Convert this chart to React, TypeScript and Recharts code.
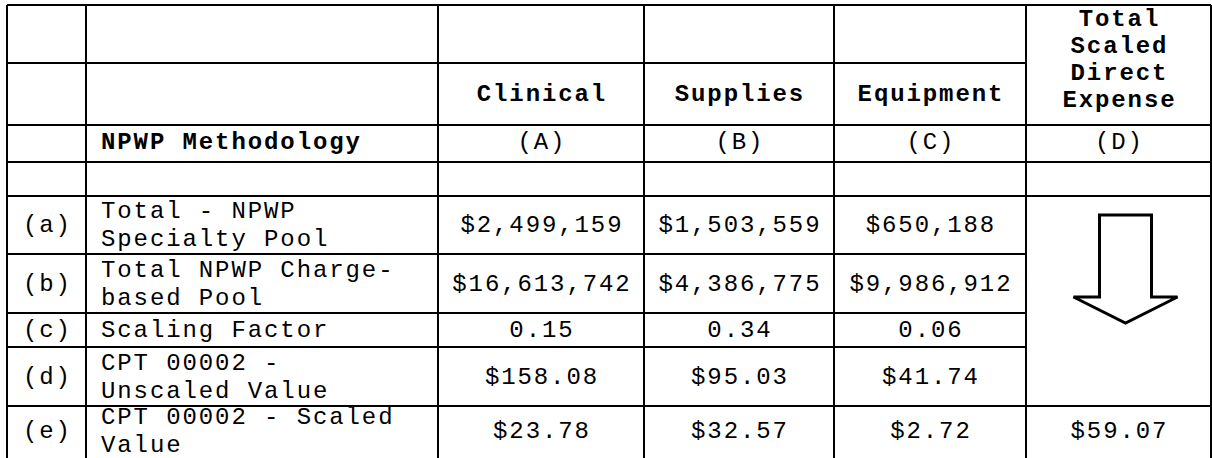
import React from "react";
import { Surface, Layer, Text, Polygon } from "recharts";

// table content
const columnHeads = ["Clinical", "Supplies", "Equipment"];
const totalHead = ["Total", "Scaled", "Direct", "Expense"];
const methodTitle = "NPWP Methodology";
const columnKeys = ["(A)", "(B)", "(C)", "(D)"];
const rowKeys = ["(a)", "(b)", "(c)", "(d)", "(e)"];
const rowLabels = [
  ["Total - NPWP", "Specialty Pool"],
  ["Total NPWP Charge-", "based Pool"],
  ["Scaling Factor"],
  ["CPT 00002 -", "Unscaled Value"],
  ["CPT 00002 - Scaled", "Value"],
];
const clinical = ["$2,499,159", "$16,613,742", "0.15", "$158.08", "$23.78"];
const supplies = ["$1,503,559", "$4,386,775", "0.34", "$95.03", "$32.57"];
const equipment = ["$650,188", "$9,986,912", "0.06", "$41.74", "$2.72"];
const totalScaled = "$59.07";

// layout
const W = 1212;
const H = 458;
const colX = [7, 86, 438, 644, 834, 1026, 1211];
const rowY = [5, 63, 125, 162, 196, 254, 313, 347, 406, 459];
const FONT = "'Liberation Mono', 'Courier New', monospace";
const FS = 24;
const SPACING = 1.9; // keeps the Courier advance of ~16px per char
const LINE = 28;
const BASE = 7;

const mid = (a: number, b: number) => (a + b) / 2;

const Cell = ({ x, y, text, bold, anchor = "middle" }: any) => (
  <Text
    x={anchor === "middle" ? x + SPACING / 2 : x}
    y={y}
    textAnchor={anchor}
    verticalAnchor="end"
    fontFamily={FONT}
    fontSize={FS}
    fontWeight={bold ? 700 : 400}
    letterSpacing={SPACING}
    fill="#000"
  >
    {text}
  </Text>
);

const App = () => {
  const dataCols = [clinical, supplies, equipment];
  const lastCol = colX[5];

  // horizontal rules: [y, xEnd]
  const hLines: [number, number][] = rowY.map((y, i) => {
    const partial = i === 1 || i === 5 || i === 6 || i === 7;
    return [y, partial ? lastCol : colX[colX.length - 1]];
  });

  // arrow in merged D cell, rows (a)-(d)
  const ax = mid(colX[5], colX[6]) + 7;
  const aTop = rowY[4] + 19;
  const shoulder = aTop + 82;
  const tip = shoulder + 26;
  const arrow = [
    { x: ax - 26, y: aTop },
    { x: ax + 26, y: aTop },
    { x: ax + 26, y: shoulder },
    { x: ax + 52, y: shoulder },
    { x: ax, y: tip },
    { x: ax - 52, y: shoulder },
    { x: ax - 26, y: shoulder },
  ];

  return (
    <div style={{ position: "absolute", left: 0, top: 0, width: W, height: H, background: "#fff" }}>
      <Surface width={W} height={H}>
        <rect x={0} y={0} width={W} height={H} fill="#fff" />
        <Layer>
          {hLines.map(([y, x2], i) => (
            <line key={`h${i}`} x1={colX[0]} x2={x2} y1={y} y2={y} stroke="#000" strokeWidth={2} />
          ))}
          {colX.map((x, i) => (
            <line key={`v${i}`} x1={x} x2={x} y1={rowY[0]} y2={rowY[rowY.length - 1]} stroke="#000" strokeWidth={2} />
          ))}
        </Layer>
        <Layer>
          {columnHeads.map((t, i) => (
            <Cell key={t} x={mid(colX[i + 2], colX[i + 3])} y={mid(rowY[1], rowY[2]) + BASE} text={t} bold />
          ))}
          {totalHead.map((t, i) => (
            <Cell key={t} x={mid(colX[5], colX[6])} y={rowY[0] + 21 + i * 27} text={t} bold />
          ))}
          <Cell x={colX[1] + 15} y={mid(rowY[2], rowY[3]) + 5} text={methodTitle} bold anchor="start" />
          {columnKeys.map((t, i) => (
            <Cell key={t} x={mid(colX[i + 2], colX[i + 3])} y={mid(rowY[2], rowY[3]) + 5} text={t} />
          ))}
          {rowKeys.map((k, r) => {
            const top = rowY[r + 4];
            const bot = rowY[r + 5];
            const c = r === 4 ? top + 25 : mid(top, bot);
            const lines = rowLabels[r];
            return (
              <Layer key={k}>
                <Cell x={mid(colX[0], colX[1])} y={c + BASE} text={k} />
                {lines.map((t, j) => (
                  <Cell
                    key={t}
                    x={colX[1] + 15}
                    y={c + BASE + (j - (lines.length - 1) / 2) * LINE}
                    text={t}
                    anchor="start"
                  />
                ))}
                {dataCols.map((col, ci) => (
                  <Cell key={ci} x={mid(colX[ci + 2], colX[ci + 3])} y={c + BASE} text={col[r]} />
                ))}
              </Layer>
            );
          })}
          <Cell x={mid(colX[5], colX[6])} y={rowY[8] + 25 + BASE} text={totalScaled} />
        </Layer>
        <Polygon points={arrow} fill="#fff" stroke="#000" strokeWidth={3} />
      </Surface>
    </div>
  );
};

export default App;
